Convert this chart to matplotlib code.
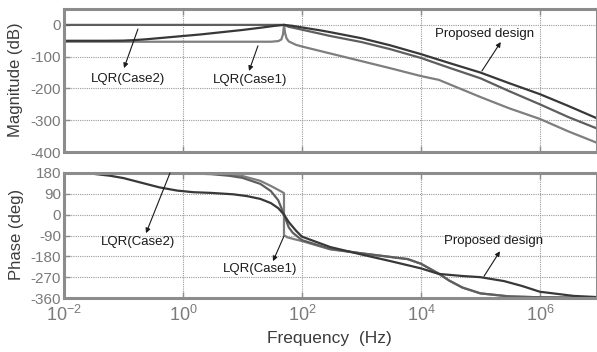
import matplotlib
matplotlib.use("Agg")
import matplotlib.pyplot as plt
import numpy as np

plt.rcParams['font.family'] = ['Liberation Sans', 'DejaVu Sans']
plt.rcParams['axes.unicode_minus'] = False
plt.rcParams['mathtext.default'] = 'regular'

# ---------------- data ----------------
# Magnitude (dB)
prop_mag_f = [0.01, 0.05, 0.1, 0.15, 0.25, 0.5, 1, 2, 5, 10, 20, 35, 50,
              70, 100, 200, 300, 1e3, 3e3, 1e4, 3e4, 1e5, 3e5, 1e6, 3e6, 9.1e6]
prop_mag = [-50, -50, -49.5, -48, -45, -40, -35, -30, -22, -16, -9, -3, 0,
            -3, -8, -17, -23, -42, -64, -92, -120, -150, -183, -218, -255, -294]

case2_mag_f = [0.01, 1, 10, 30, 45, 50, 60, 80, 100, 300, 1e3, 3e3, 1e4,
               3e4, 1e5, 3e5, 1e6, 3e6, 9.1e6]
case2_mag = [0, 0, 0, 0, 0, 0, -6, -11, -15, -35, -54, -76, -104,
             -135, -168, -208, -250, -290, -326]

case1_mag_f = [0.01, 1, 10, 30, 40, 45, 48, 50, 52, 55, 60, 80, 100, 300,
               1e3, 3e3, 1e4, 2e4, 1e5, 3e5, 1e6, 3e6, 9.1e6]
case1_mag = [-53, -53, -53, -53, -51, -46, -30, 0, -25, -42, -52, -63, -68,
             -90, -114, -136, -161, -173, -227, -262, -296, -335, -371]

# Phase (deg)
prop_ph_f = [0.01, 0.03, 0.06, 0.1, 0.2, 0.4, 0.8, 1.5, 3, 7, 12, 20, 30,
             40, 50, 60, 80, 100, 300, 1e3, 3e3, 1e4, 2e4, 5e4, 1e5, 2.5e5,
             5e5, 1e6, 3.7e6, 9.1e6]
prop_ph = [179, 177, 168, 158, 138, 118, 104, 97, 94, 88, 80, 68, 50,
           28, 0, -32, -70, -95, -140, -172, -200, -232, -256, -265, -270, -287,
           -308, -333, -351, -356]

case2_ph_f = [0.01, 1, 3, 6, 10, 20, 30, 40, 50, 60, 70, 100, 300, 1e3,
              6e3, 1e4, 2e4, 3e4, 5e4, 1e5, 3e5, 1e6, 9.1e6]
case2_ph = [180, 179, 175, 168, 159, 133, 102, 62, 0, -55, -78, -110, -148, -167,
            -192, -212, -255, -285, -315, -340, -353, -357, -359]

case1_ph_f = [0.01, 1, 3, 6, 10, 20, 30, 45, 49.9, 49.9001, 57, 80, 100, 300,
              1e3, 6e3, 1e4, 2e4, 3e4, 5e4, 1e5, 3e5, 1e6, 9.1e6]
case1_ph = [180, 180, 178, 174, 167, 146, 124, 100, 93, -88, -98, -108, -114, -150,
            -167, -192, -212, -255, -285, -315, -340, -353, -357, -359]

mag_ticks = [0, -100, -200, -300, -400]
ph_ticks = [180, 90, 0, -90, -180, -270, -360]
x_ticks = [1e-2, 1e0, 1e2, 1e4, 1e6]
x_ticklabels = ['$10^{-2}$', '$10^{0}$', '$10^{2}$', '$10^{4}$', '$10^{6}$']

# ---------------- style ----------------
C_DARK = '#383838'
C_MED = '#5e5e5e'
C_LIGHT = '#7e7e7e'
FRAME = '#8c8c8c'
TICKC = '#7a7a7a'
LABELC = '#3c3c3c'
XMAX = 10 ** 6.96

fig = plt.figure(figsize=(5.97, 3.52), dpi=100)
W, H = 597.0, 352.0
ax1 = fig.add_axes([64 / W, 1 - 152 / H, 1 - 64 / W, 143 / H])
ax2 = fig.add_axes([64 / W, 1 - 298 / H, 1 - 64 / W, 125 / H])

for ax in (ax1, ax2):
    ax.set_xscale('log')
    ax.set_xlim(1e-2, XMAX)
    ax.set_xticks(x_ticks)
    ax.xaxis.set_minor_locator(matplotlib.ticker.NullLocator())
    ax.grid(True, which='major', linestyle=(0, (1, 1)), color='#9a9a9a', linewidth=0.8)
    for s in ax.spines.values():
        s.set_color(FRAME)
        s.set_linewidth(2.2)
    ax.tick_params(direction='in', length=4, width=1, color=FRAME,
                   labelcolor=TICKC, labelsize=11, top=True, right=False, pad=2)

ax1.plot(case1_mag_f, case1_mag, color=C_LIGHT, lw=1.6)
ax1.plot(case2_mag_f, case2_mag, color=C_MED, lw=1.6)
ax1.plot(prop_mag_f, prop_mag, color=C_DARK, lw=1.6)
ax1.set_ylim(-400, 50)
ax1.set_yticks(mag_ticks)
ax1.set_yticklabels([str(v) for v in mag_ticks])
ax1.tick_params(axis='x', labelbottom=False)

ax2.plot(case1_ph_f, case1_ph, color=C_LIGHT, lw=1.6)
ax2.plot(case2_ph_f, case2_ph, color=C_MED, lw=1.6)
ax2.plot(prop_ph_f, prop_ph, color=C_DARK, lw=1.6)
ax2.set_ylim(-360, 180)
ax2.set_yticks(ph_ticks)
ax2.set_yticklabels([str(v) for v in ph_ticks])
ax2.set_xticklabels(x_ticklabels)
ax2.tick_params(axis='x', labelsize=13, pad=5)

fig.text(16 / W, 1 - 80 / H, 'Magnitude (dB)', rotation=90, ha='center', va='center',
         fontsize=12, color=LABELC)
fig.text(17 / W, 1 - 234 / H, 'Phase (deg)', rotation=90, ha='center', va='center',
         fontsize=12, color=LABELC)
fig.text(329 / W, 1 - 339 / H, 'Frequency  (Hz)', ha='center', va='center',
         fontsize=12.5, color=LABELC)

arrow = dict(arrowstyle='-|>', lw=0.8, color='#1a1a1a', mutation_scale=7,
             shrinkA=0, shrinkB=0)
TXT = dict(ha='center', va='center', fontsize=9.5, color='#1a1a1a')

ax1.text(0.119, -170, 'LQR(Case2)', **TXT)
ax1.annotate('', xy=(0.102, -136), xytext=(0.175, -13), arrowprops=arrow)
ax1.text(13.4, -173, 'LQR(Case1)', **TXT)
ax1.annotate('', xy=(12.9, -145), xytext=(18.2, -66), arrowprops=arrow)
ax1.text(1.19e5, -28, 'Proposed design', **TXT)
ax1.annotate('', xy=(2.2e5, -54), xytext=(1.06e5, -145), arrowprops=arrow)

ax2.text(0.175, -119, 'LQR(Case2)', **TXT)
ax2.annotate('', xy=(0.239, -80), xytext=(0.605, 180), arrowprops=arrow)
ax2.text(19.7, -236, 'LQR(Case1)', **TXT)
ax2.annotate('', xy=(32.6, -201), xytext=(49.8, -93), arrowprops=arrow)
ax2.text(1.69e5, -114, 'Proposed design', **TXT)
ax2.annotate('', xy=(2.13e5, -158), xytext=(1.15e5, -266), arrowprops=arrow)

fig.savefig('out.png', dpi=100)
